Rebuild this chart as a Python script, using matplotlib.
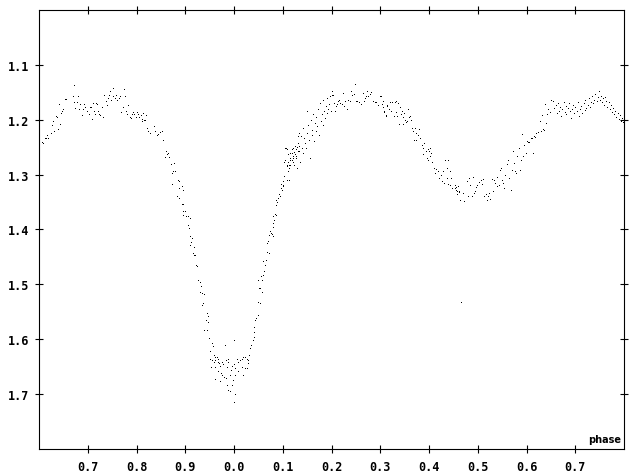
import matplotlib
matplotlib.use("Agg")
import matplotlib.pyplot as plt
from matplotlib.ticker import FixedLocator, FuncFormatter

# ---- data: (phase, magnitude) pairs, by section ----
first_maximum = [
    (-0.394,1.243),(-0.391,1.244),(-0.388,1.235),(-0.385,1.235),(-0.383,1.229),(-0.381,1.235),
    (-0.376,1.226),(-0.374,1.211),(-0.372,1.205),(-0.370,1.222),(-0.366,1.195),(-0.363,1.197),
    (-0.362,1.219),(-0.360,1.173),(-0.357,1.209),(-0.354,1.189),(-0.352,1.185),(-0.350,1.182),
    (-0.347,1.164),(-0.344,1.164),(-0.331,1.159),(-0.328,1.138),(-0.329,1.169),(-0.326,1.180),
    (-0.323,1.169),(-0.319,1.159),(-0.318,1.182),(-0.315,1.173),(-0.312,1.194),(-0.309,1.183),
    (-0.307,1.174),(-0.305,1.179),(-0.302,1.185),(-0.298,1.191),(-0.296,1.179),(-0.294,1.179),
    (-0.292,1.200),(-0.290,1.172),(-0.288,1.186),(-0.286,1.191),(-0.284,1.171),(-0.282,1.174),
    (-0.278,1.186),(-0.277,1.192),(-0.274,1.194),(-0.270,1.179),(-0.268,1.197),(-0.266,1.157),
    (-0.263,1.168),(-0.260,1.175),(-0.258,1.163),(-0.256,1.156),(-0.254,1.150),(-0.253,1.165),
    (-0.249,1.144),(-0.248,1.159),(-0.245,1.162),(-0.242,1.157),(-0.239,1.165),(-0.236,1.162),
    (-0.234,1.158),(-0.231,1.188),(-0.227,1.179),(-0.225,1.146),(-0.223,1.159),(-0.221,1.186),
    (-0.219,1.191),(-0.217,1.175),(-0.214,1.197),(-0.212,1.199),(-0.210,1.191),(-0.207,1.188),
    (-0.205,1.192),(-0.201,1.196),(-0.199,1.188),(-0.197,1.191),(-0.195,1.197),(-0.191,1.194),
    (-0.188,1.200),(-0.186,1.189),(-0.183,1.203),(-0.181,1.194),(-0.178,1.216),(-0.176,1.222),
]
primary_ingress = [
    (-0.189,1.205),(-0.184,1.203),(-0.178,1.216),(-0.176,1.223),(-0.172,1.226),(-0.165,1.214),
    (-0.162,1.222),(-0.158,1.229),(-0.155,1.227),(-0.152,1.224),(-0.148,1.222),(-0.145,1.238),
    (-0.140,1.259),(-0.138,1.265),(-0.141,1.270),(-0.135,1.262),(-0.133,1.270),(-0.130,1.282),
    (-0.124,1.281),(-0.126,1.296),(-0.122,1.295),(-0.127,1.299),(-0.128,1.319),(-0.115,1.311),
    (-0.112,1.314),(-0.113,1.326),(-0.107,1.323),(-0.104,1.329),(-0.117,1.341),(-0.112,1.345),
    (-0.107,1.355),(-0.104,1.355),(-0.104,1.369),(-0.100,1.368),(-0.105,1.375),(-0.098,1.378),
    (-0.094,1.378),(-0.090,1.380),(-0.094,1.393),(-0.092,1.399),(-0.090,1.413),(-0.087,1.418),
    (-0.089,1.424),(-0.090,1.430),(-0.083,1.433),(-0.085,1.445),(-0.083,1.449),(-0.080,1.448),
    (-0.078,1.466),(-0.075,1.469),(-0.073,1.494),(-0.070,1.497),(-0.068,1.504),(-0.069,1.515),
    (-0.065,1.518),(-0.061,1.520),(-0.063,1.536),(-0.066,1.540),(-0.056,1.554),(-0.053,1.559),
    (-0.058,1.567),(-0.054,1.570),(-0.061,1.585),(-0.056,1.585),(-0.051,1.600),(-0.046,1.609),
    (-0.049,1.623),(-0.044,1.615),(-0.042,1.630),
]
primary_minimum = [
    (-0.049,1.638),(-0.046,1.640),(-0.040,1.635),(-0.038,1.640),(-0.035,1.634),(-0.033,1.637),
    (-0.032,1.643),(-0.042,1.644),(-0.047,1.653),(-0.039,1.652),(-0.031,1.646),(-0.029,1.650),
    (-0.025,1.643),(-0.022,1.647),(-0.018,1.612),(-0.017,1.640),(-0.015,1.652),(-0.013,1.637),
    (-0.012,1.643),(-0.027,1.664),(-0.024,1.667),(-0.020,1.670),(-0.032,1.660),(-0.040,1.675),
    (-0.029,1.678),(-0.017,1.673),(-0.008,1.667),(-0.006,1.658),(-0.005,1.650),(-0.001,1.603),
    (-0.001,1.647),(0.002,1.655),(0.006,1.637),(0.009,1.643),(0.012,1.640),(0.016,1.637),
    (0.019,1.635),(0.023,1.634),(0.026,1.637),(0.028,1.646),(0.016,1.652),(0.009,1.660),
    (0.003,1.667),(-0.003,1.676),(-0.015,1.685),(-0.012,1.694),(-0.008,1.697),(-0.005,1.685),
    (0.002,1.702),(0.001,1.716),(0.019,1.667),(0.023,1.655),(0.026,1.654),
]
primary_egress = [
    (0.029,1.640),(0.031,1.630),(0.033,1.618),(0.035,1.612),(0.038,1.603),(0.040,1.597),
    (0.042,1.588),(0.040,1.580),(0.044,1.567),(0.046,1.564),(0.049,1.557),(0.050,1.534),
    (0.053,1.536),(0.053,1.509),(0.050,1.494),(0.058,1.515),(0.052,1.509),(0.057,1.494),
    (0.055,1.487),(0.059,1.484),(0.061,1.478),(0.064,1.466),(0.060,1.460),(0.066,1.457),
    (0.067,1.443),(0.072,1.445),(0.068,1.427),(0.070,1.422),(0.072,1.411),(0.075,1.408),
    (0.077,1.410),(0.074,1.405),(0.079,1.414),(0.081,1.398),(0.081,1.390),(0.082,1.384),
    (0.079,1.377),(0.084,1.374),(0.087,1.375),(0.086,1.357),(0.089,1.351),(0.087,1.348),
    (0.091,1.345),(0.094,1.341),(0.093,1.338),(0.096,1.326),(0.098,1.329),(0.100,1.323),
    (0.101,1.320),(0.096,1.319),(0.100,1.314),(0.102,1.305),(0.108,1.311),(0.113,1.311),
    (0.111,1.296),(0.113,1.290),(0.115,1.284),(0.108,1.284),(0.111,1.278),(0.105,1.276),
    (0.115,1.272),(0.118,1.275),(0.122,1.278),(0.120,1.268),(0.125,1.265),(0.128,1.268),
    (0.123,1.261),(0.127,1.256),(0.132,1.259),(0.130,1.252),(0.134,1.250),(0.125,1.250),
    (0.115,1.262),(0.108,1.256),(0.111,1.265),(0.118,1.256),(0.122,1.253),(0.105,1.253),
    (0.132,1.232),(0.134,1.226),
]
second_maximum = [
    (0.102,1.278),(0.107,1.253),(0.109,1.287),(0.111,1.265),(0.113,1.284),(0.115,1.275),
    (0.118,1.262),(0.120,1.272),(0.122,1.253),(0.123,1.285),(0.125,1.250),(0.128,1.272),
    (0.130,1.290),(0.132,1.244),(0.134,1.258),(0.135,1.278),(0.137,1.232),(0.139,1.253),
    (0.141,1.262),(0.142,1.217),(0.143,1.235),(0.145,1.244),(0.148,1.253),(0.149,1.226),
    (0.150,1.186),(0.152,1.211),(0.154,1.238),(0.156,1.272),(0.157,1.202),(0.159,1.220),
    (0.161,1.229),(0.163,1.192),(0.164,1.241),(0.166,1.208),(0.168,1.222),(0.169,1.197),
    (0.171,1.214),(0.173,1.183),(0.175,1.229),(0.176,1.171),(0.178,1.205),(0.180,1.191),
    (0.182,1.165),(0.183,1.211),(0.184,1.186),(0.186,1.199),(0.189,1.177),(0.190,1.189),
    (0.191,1.162),(0.193,1.183),(0.195,1.174),(0.197,1.159),(0.198,1.186),(0.200,1.156),
    (0.202,1.149),(0.204,1.157),(0.205,1.171),(0.207,1.186),(0.209,1.177),(0.212,1.173),
    (0.214,1.168),(0.216,1.165),(0.217,1.171),(0.221,1.174),(0.224,1.153),(0.225,1.177),
    (0.227,1.168),(0.231,1.183),(0.234,1.165),(0.238,1.168),(0.241,1.150),(0.243,1.156),
    (0.246,1.155),(0.249,1.136),(0.251,1.167),(0.253,1.167),(0.257,1.169),(0.260,1.173),
    (0.264,1.153),(0.266,1.167),(0.268,1.163),(0.270,1.159),(0.273,1.150),(0.275,1.159),
    (0.279,1.155),(0.282,1.151),(0.286,1.167),(0.289,1.169),(0.292,1.169),(0.296,1.175),
    (0.299,1.159),(0.303,1.173),(0.306,1.179),(0.307,1.186),(0.311,1.194),(0.314,1.177),
]
secondary_ingress = [
    (0.301,1.159),(0.305,1.167),(0.307,1.188),(0.311,1.195),(0.314,1.175),(0.318,1.183),
    (0.321,1.169),(0.323,1.185),(0.325,1.169),(0.328,1.195),(0.330,1.169),(0.332,1.188),
    (0.333,1.168),(0.335,1.195),(0.337,1.171),(0.339,1.209),(0.340,1.179),(0.342,1.191),
    (0.344,1.185),(0.346,1.197),(0.347,1.209),(0.348,1.189),(0.350,1.202),(0.352,1.206),
    (0.355,1.205),(0.357,1.183),(0.359,1.197),(0.362,1.195),(0.364,1.203),(0.366,1.217),
    (0.368,1.223),(0.371,1.217),(0.373,1.226),(0.369,1.238),(0.374,1.238),(0.378,1.229),
    (0.380,1.218),(0.381,1.235),(0.385,1.248),(0.387,1.253),(0.389,1.244),(0.388,1.264),
    (0.393,1.259),(0.396,1.272),(0.398,1.256),(0.400,1.259),(0.402,1.267),(0.403,1.253),
    (0.405,1.262),(0.398,1.275),(0.407,1.279),(0.410,1.290),(0.412,1.299),(0.415,1.291),
    (0.419,1.296),(0.421,1.308),(0.424,1.303),(0.426,1.313),(0.428,1.296),(0.430,1.317),
    (0.433,1.275),(0.436,1.290),(0.438,1.276),(0.436,1.308),(0.438,1.319),(0.443,1.320),
    (0.444,1.296),(0.446,1.308),(0.448,1.326),(0.453,1.326),(0.456,1.329),(0.460,1.323),
    (0.458,1.337),(0.462,1.332),
]
secondary_minimum = [
    (0.453,1.320),(0.456,1.325),(0.458,1.332),(0.461,1.334),(0.463,1.348),(0.470,1.335),
    (0.472,1.349),(0.477,1.314),(0.479,1.341),(0.482,1.308),(0.484,1.321),(0.488,1.341),
    (0.491,1.307),(0.492,1.335),(0.495,1.331),(0.497,1.325),(0.499,1.320),(0.502,1.315),
    (0.506,1.311),(0.509,1.319),(0.511,1.309),(0.513,1.340),(0.516,1.337),(0.518,1.348),
    (0.521,1.340),(0.523,1.335),(0.525,1.346),(0.529,1.309),(0.532,1.331),(0.534,1.311),
    (0.536,1.317),(0.539,1.323),(0.540,1.307),(0.543,1.321),(0.545,1.293),(0.547,1.290),
    (0.550,1.311),(0.552,1.317),(0.554,1.326),(0.555,1.303),(0.559,1.282),(0.562,1.276),
    (0.564,1.308),(0.568,1.329),(0.570,1.293),(0.572,1.258),(0.574,1.281),(0.577,1.296),
    (0.579,1.299),(0.581,1.268),(0.584,1.254),(0.586,1.293),(0.588,1.275),(0.590,1.228),
    (0.593,1.268),(0.595,1.248),(0.598,1.262),(0.600,1.240),(0.603,1.242),(0.605,1.243),
    (0.609,1.235),(0.611,1.235),(0.613,1.262),(0.615,1.232),(0.618,1.234),(0.620,1.226),
    (0.624,1.224),(0.627,1.205),(0.629,1.223),(0.632,1.194),(0.634,1.218),(0.636,1.220),
    (0.637,1.173),(0.641,1.208),(0.643,1.191),(0.645,1.183),(0.648,1.188),(0.651,1.165),
]
last_maximum = [
    (0.655,1.168),(0.657,1.180),(0.660,1.175),(0.662,1.190),(0.664,1.172),(0.667,1.185),
    (0.669,1.178),(0.671,1.195),(0.673,1.182),(0.676,1.170),(0.678,1.188),(0.680,1.176),
    (0.682,1.192),(0.685,1.180),(0.687,1.172),(0.689,1.186),(0.691,1.199),(0.694,1.183),
    (0.696,1.175),(0.698,1.190),(0.700,1.178),(0.703,1.186),(0.705,1.170),(0.707,1.195),
    (0.710,1.182),(0.712,1.177),(0.714,1.189),(0.717,1.172),(0.719,1.184),(0.721,1.166),
    (0.723,1.180),(0.726,1.175),(0.728,1.162),(0.730,1.178),(0.732,1.170),(0.735,1.158),
    (0.737,1.172),(0.739,1.165),(0.741,1.155),(0.744,1.168),(0.746,1.160),(0.748,1.150),
    (0.750,1.165),(0.753,1.158),(0.755,1.170),(0.757,1.162),(0.759,1.175),(0.762,1.160),
    (0.764,1.168),(0.766,1.178),(0.769,1.170),(0.771,1.182),(0.773,1.175),(0.775,1.188),
    (0.778,1.180),(0.780,1.192),(0.782,1.185),(0.784,1.196),(0.787,1.190),(0.789,1.200),
    (0.791,1.193),(0.793,1.204),(0.796,1.198),(0.798,1.206),
]
outliers = [(0.465,1.534)]

x_ticks = [-0.3,-0.2,-0.1,0.0,0.1,0.2,0.3,0.4,0.5,0.6,0.7]
y_ticks = [1.1,1.2,1.3,1.4,1.5,1.6,1.7]

# ---- figure ----
fig = plt.figure(figsize=(6.38,4.77), dpi=100)
ax = fig.add_axes([39/638, 1-450/477, (624-39)/638, (450-11)/477])

sections = [first_maximum, primary_ingress, primary_minimum, primary_egress,
            second_maximum, secondary_ingress, secondary_minimum, last_maximum, outliers]
for sec in sections:
    ph = [p for p, m in sec]
    mg = [m for p, m in sec]
    ax.plot(ph, mg, linestyle='none', marker=',', color='black')

ax.set_xlim(-0.4, 0.8)
ax.set_ylim(1.8, 1.0)

ax.xaxis.set_major_locator(FixedLocator(x_ticks))
ax.yaxis.set_major_locator(FixedLocator(y_ticks))
ax.xaxis.set_major_formatter(FuncFormatter(lambda v, p: f"{(round(v,1)) % 1.0:.1f}"))
ax.yaxis.set_major_formatter(FuncFormatter(lambda v, p: f"{v:.1f}"))
ax.tick_params(axis='both', which='major', direction='inout', length=6, width=0.8,
               top=True, right=True, labelsize=8.5, color='black')
ax.tick_params(axis='x', pad=5)
ax.tick_params(axis='y', pad=4)
for lab in ax.xaxis.get_majorticklabels() + ax.yaxis.get_majorticklabels():
    lab.set_fontfamily('DejaVu Sans Mono')
    lab.set_fontweight('bold')
for s in ax.spines.values():
    s.set_linewidth(0.8)
    s.set_color('black')

ax.text(0.995, 0.012, 'phase', transform=ax.transAxes, ha='right', va='bottom',
        fontfamily='DejaVu Sans', fontweight='bold', fontsize=7)

fig.savefig('out.png', dpi=100)
